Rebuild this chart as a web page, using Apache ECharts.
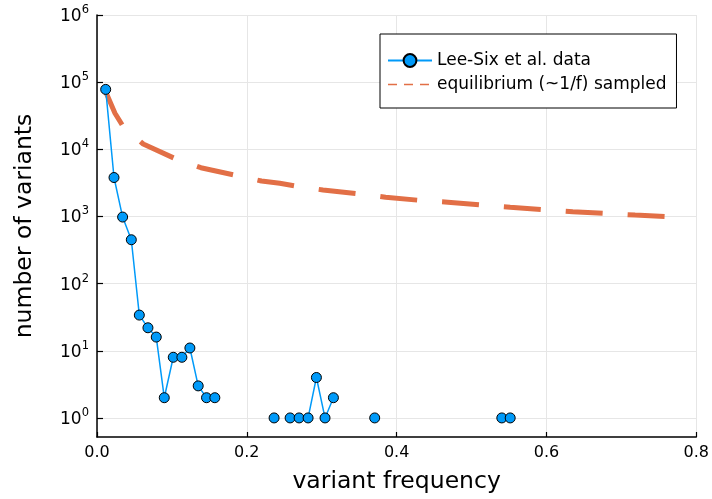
<!DOCTYPE html>
<html>
<head>
<meta charset="utf-8">
<script src="https://cdn.jsdelivr.net/npm/echarts@6/dist/echarts.min.js"></script>
<style>
  html, body { margin: 0; padding: 0; background: #fff; }
  #chart { width: 712px; height: 499px; }
</style>
</head>
<body>
<div id="chart"></div>
<script>
// Lee-Six et al. data (histogram bins; null = empty bin, breaks the line)
const dataFreq = [0.0116, 0.0227, 0.0342, 0.0458, 0.0565, 0.068, 0.0791, 0.0898, 0.1018, 0.1133, 0.124, 0.1351, 0.1462, 0.1573,
                  0.168, 0.2364, 0.247, 0.2578, 0.2698, 0.2818, 0.2929, 0.3044, 0.3156, 0.327, 0.3707, 0.382, 0.5404, 0.5516];
const dataCount = [78000, 3800, 980, 450, 34, 22, 16, 2, 8, 8, 11, 3, 2, 2,
                   null, 1, null, 1, 1, 1, 4, 1, 2, null, 1, null, 1, 1];

// equilibrium (~1/f) sampled curve
const eqFreq = [0.0116, 0.024, 0.0351, 0.0617, 0.1053, 0.1387, 0.1871, 0.2196, 0.244, 0.2693, 0.3017, 0.352,
                0.3853, 0.4351, 0.4684, 0.5187, 0.5516, 0.6017, 0.6351, 0.6849, 0.7183, 0.7684];
const eqCount = [72100, 34400, 21700, 12000, 7180, 5320, 4050, 3375, 3120, 2780, 2480, 2160,
                 1930, 1720, 1630, 1460, 1370, 1250, 1180, 1100, 1050, 983];

const xTicks = [0, 0.2, 0.4, 0.6, 0.8];
const yTicks = [1, 10, 100, 1000, 10000, 100000, 1000000];

const seriesNames = ['Lee-Six et al. data', 'equilibrium (~1/f) sampled'];

const FONT = 'DejaVu Sans';
const BLUE = '#009af9';
const ORANGE = '#e26f46';

const chart = echarts.init(document.getElementById('chart'), null, { renderer: 'canvas' });

const option = {
  backgroundColor: '#ffffff',
  animation: false,
  textStyle: { fontFamily: FONT },
  grid: { left: 97, right: 15, top: 15, bottom: 62, containLabel: false },
  legend: {
    orient: 'vertical',
    left: 380,
    top: 34,
    padding: [18, 10, 15, 7],
    itemGap: 7,
    itemWidth: 44,
    itemHeight: 16,
    backgroundColor: '#ffffff',
    borderColor: '#000000',
    borderWidth: 1,
    borderRadius: 0,
    textStyle: { fontFamily: FONT, fontSize: 17, color: '#000000' },
    data: [
      { name: seriesNames[0] },
      { name: seriesNames[1], itemStyle: { opacity: 0 }, lineStyle: { width: 1.5, type: [9, 7], opacity: 1 } }
    ]
  },
  xAxis: {
    type: 'value',
    min: 0,
    max: 0.8,
    interval: 0.2,
    name: 'variant frequency',
    nameLocation: 'middle',
    nameGap: 33,
    nameTextStyle: { fontFamily: FONT, fontSize: 23.5, color: '#000000' },
    axisLine: { show: true, onZero: false, lineStyle: { color: '#000000', width: 1.5 } },
    axisTick: { show: true, inside: true, length: 5, lineStyle: { color: '#000000', width: 1.2 } },
    axisLabel: {
      color: '#000000', fontFamily: FONT, fontSize: 16, margin: 8,
      formatter: v => v.toFixed(1)
    },
    splitLine: { show: true, lineStyle: { color: '#e6e6e6', width: 1 } }
  },
  yAxis: {
    type: 'log',
    logBase: 10,
    min: 0.52,
    max: 1000000,
    name: 'number of variants',
    nameLocation: 'middle',
    nameGap: 60,
    nameRotate: 90,
    nameTextStyle: { fontFamily: FONT, fontSize: 23.5, color: '#000000' },
    axisLine: { show: true, lineStyle: { color: '#000000', width: 1.5 } },
    axisTick: { show: true, inside: true, length: 6, lineStyle: { color: '#000000', width: 1.2 }, customValues: yTicks },
    axisLabel: {
      color: '#000000', margin: 8,
      customValues: yTicks,
      formatter: function (v) {
        const e = Math.round(Math.log10(v));
        return '{b|10}{s|' + e + '}';
      },
      rich: {
        b: { fontFamily: FONT, fontSize: 17, color: '#000', verticalAlign: 'bottom', lineHeight: 20, padding: [0, 0, 0, 0] },
        s: { fontFamily: FONT, fontSize: 11.5, color: '#000', verticalAlign: 'bottom', lineHeight: 20, padding: [0, 0, 9, 0] }
      }
    },
    splitLine: { show: true, lineStyle: { color: '#e6e6e6', width: 1 } }
  },
  series: [
    {
      name: seriesNames[1],
      type: 'line',
      data: eqFreq.map((f, i) => [f, eqCount[i]]),
      showSymbol: false,
      symbol: 'none',
      z: 2,
      color: ORANGE,
      lineStyle: { color: ORANGE, width: 5, type: [37, 25], cap: 'butt' }
    },
    {
      name: seriesNames[0],
      type: 'line',
      data: dataFreq.map((f, i) => [f, dataCount[i]]),
      connectNulls: false,
      symbol: 'circle',
      symbolSize: 10,
      showAllSymbol: true,
      z: 3,
      color: BLUE,
      itemStyle: { color: BLUE, borderColor: '#000000', borderWidth: 1 },
      lineStyle: { color: BLUE, width: 1.5 }
    }
  ]
};

chart.setOption(option);
</script>
</body>
</html>
